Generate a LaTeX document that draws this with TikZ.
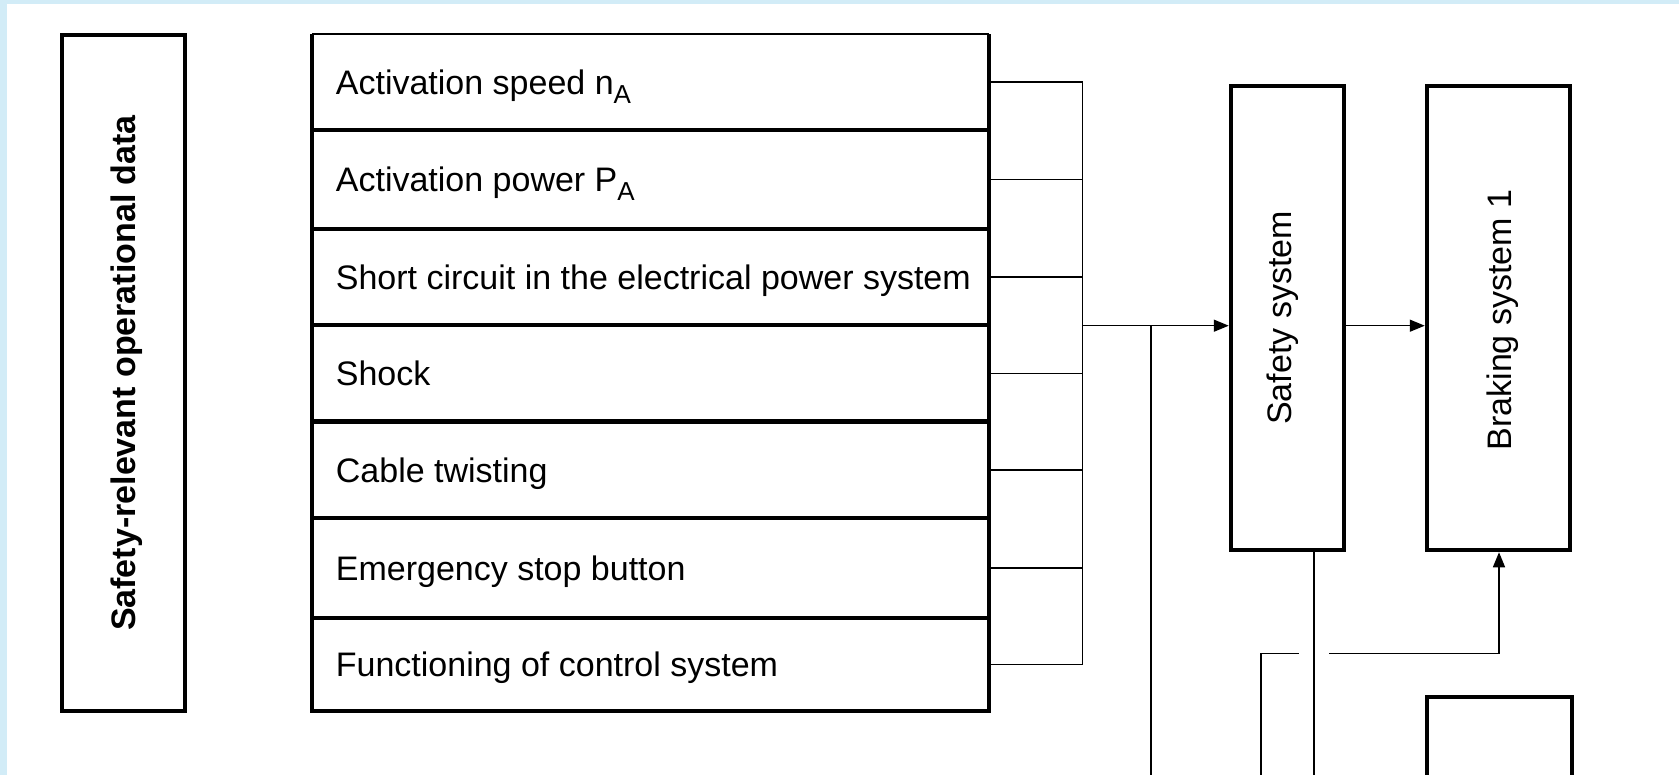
\documentclass[tikz,border=0pt]{standalone}
\usepackage{fontspec}
\setmainfont{Liberation Sans}
\usetikzlibrary{arrows.meta}
\definecolor{bgblue}{RGB}{210,236,247}
\begin{document}
\begin{tikzpicture}[x=1pt,y=-1pt,
  thickbox/.style={draw,rectangle,line width=4.5pt,inner sep=0pt},
  rowcell/.style={rectangle,inner sep=0pt,outer sep=0pt,minimum width=677pt},
  rowtext/.style={anchor=west,inner sep=0pt,text height=24.5pt,text depth=0pt,font=\fontsize{34}{40}\selectfont},
  vtext/.style={rotate=90,inner sep=0pt,text height=25pt,text depth=7pt,font=\fontsize{34}{40}\selectfont},
  framestyle/.style={line width=4.5pt,line join=miter},
  conn/.style={line width=1.5pt},
  arr/.style={conn,-{Triangle[length=15pt,width=12pt]}}]
\useasboundingbox (0,0) rectangle (1679,775);
\clip (0,0) rectangle (1679,775);
\fill[bgblue] (0,0) rectangle (1679,775);
\fill[white] (7,4) rectangle (1679,775);

% left box
\node[thickbox,minimum width=123pt,minimum height=676pt] (lb) at (123.5,373) {};
\node[vtext,font=\fontsize{34}{40}\selectfont\bfseries] (lt) at (126,373) {Safety-relevant operational data};

% table rows
\node[rowcell,minimum height=96pt]   (r1) at (650.5,82) {};
\node[rowcell,minimum height=99pt]   (r2) at (650.5,179.5) {};
\node[rowcell,minimum height=96pt]   (r3) at (650.5,277) {};
\node[rowcell,minimum height=96.7pt] (r4) at (650.5,373.35) {};
\node[rowcell,minimum height=96.3pt] (r5) at (650.5,469.85) {};
\node[rowcell,minimum height=100pt]  (r6) at (650.5,568) {};
\node[rowcell,minimum height=93pt]   (r7) at (650.5,664.5) {};

\draw[framestyle] (r1.north west) -- (r7.south west) -- (r7.south east) -- (r1.north east);
\draw[line width=2pt] (r1.north west) -- (r1.north east);
\foreach \i in {1,...,6}{
  \draw[line width=4.5pt] (r\i.south west) -- (r\i.south east);
}

\node[rowtext] (t1) at ([xshift=23.7pt]r1.west) {Activation speed n\raisebox{-9pt}{\fontsize{26}{26}\selectfont A}};
\node[rowtext] (t2) at ([xshift=23.7pt]r2.west) {Activation power P\raisebox{-9pt}{\fontsize{26}{26}\selectfont A}};
\node[rowtext] (t3) at ([xshift=23.7pt]r3.west) {Short circuit in the electrical power system};
\node[rowtext] (t4) at ([xshift=23.7pt]r4.west) {Shock};
\node[rowtext] (t5) at ([xshift=23.7pt]r5.west) {Cable twisting};
\node[rowtext] (t6) at ([xshift=23.7pt]r6.west) {Emergency stop button};
\node[rowtext] (t7) at ([xshift=23.7pt]r7.west) {Functioning of control system};

% right boxes
\node[thickbox,minimum width=113pt,minimum height=464pt] (ss) at (1287.5,318) {};
\node[vtext] (st) at (1282.7,318) {Safety system};
\node[thickbox,minimum width=143pt,minimum height=464pt] (bs) at (1498.5,318) {};
\node[vtext] (bt) at (1502.7,320) {Braking system 1};
\node[thickbox,minimum width=145pt,minimum height=306pt] (b2) at (1499.5,850) {};

% bus
\coordinate (busx) at (1082.5,0);
\foreach \i in {1,...,7}{
  \draw[conn] (r\i.east) -- (r\i.east -| busx);
}
\draw[conn] (r1.east -| busx) -- (r7.east -| busx);

\coordinate (j) at (1082.5,325.7);
\draw[arr] (j) -- (j -| ss.west);
\coordinate (j2) at (1151,325.7);
\coordinate (j2b) at (1151,800);
\draw[conn] (j2) -- (j2b);
\draw[arr] (j -| ss.east) -- (j -| bs.west);

% safety bottom line
\coordinate (s1) at (1314,800);
\draw[conn] (ss.south -| s1) -- (s1);

% feedback to braking system 1
\coordinate (c0) at (1261,800);
\coordinate (c1) at (1261,653.3);
\coordinate (g1) at (1299,653.3);
\coordinate (g2) at (1329,653.3);
\coordinate (c2) at (1499,653.3);
\draw[conn] (c0) -- (c1) -- (g1);
\draw[arr] (g2) -- (c2) -- (bs.south -| c2);
\end{tikzpicture}
\end{document}
